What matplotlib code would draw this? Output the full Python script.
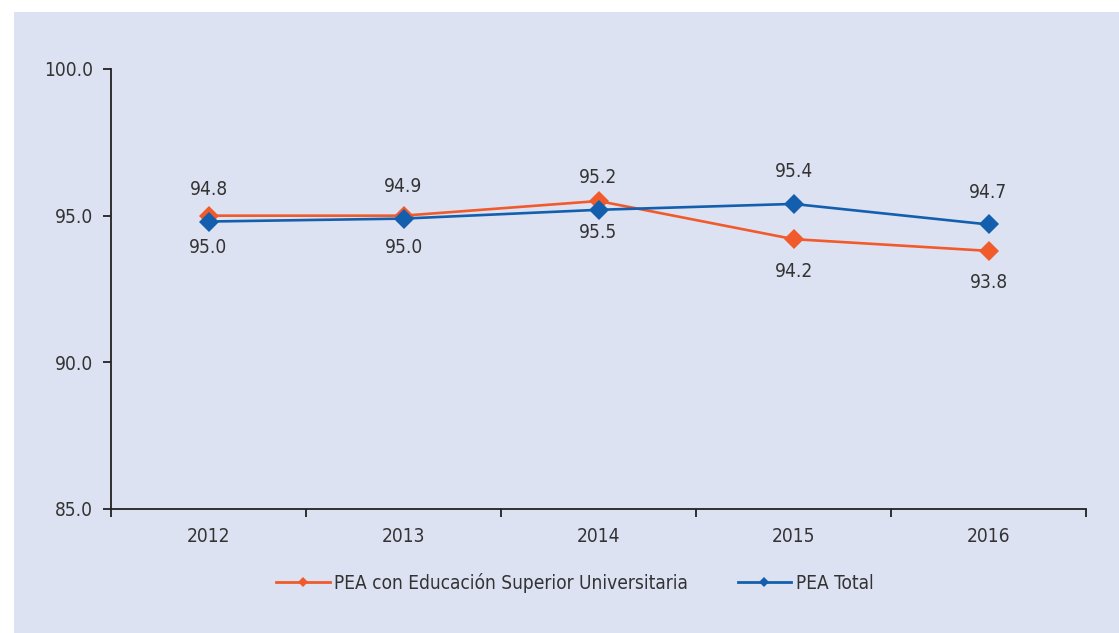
import matplotlib
matplotlib.use("Agg")
import matplotlib.pyplot as plt
from matplotlib.patches import Rectangle
from matplotlib.lines import Line2D

years = ["2012", "2013", "2014", "2015", "2016"]
pea_univ = [95.0, 95.0, 95.5, 94.2, 93.8]
pea_total = [94.8, 94.9, 95.2, 95.4, 94.7]
label_univ = ["95.0", "95.0", "95.5", "94.2", "93.8"]
label_total = ["94.8", "94.9", "95.2", "95.4", "94.7"]
yticks = [85.0, 90.0, 95.0, 100.0]

ORANGE = "#f15a2b"
BLUE = "#135fae"
TEXT = "#333333"
BG = "#dde2f2"
FS = 13.7

plt.rcParams['font.family'] = ['DejaVu Sans']
plt.rcParams['font.stretch'] = 'condensed'

fig = plt.figure(figsize=(11.19, 6.33), dpi=100)
fig.patch.set_facecolor("white")
fig.patches.append(Rectangle((14/1119, 0), 1 - 14/1119, (633-12)/633,
                             transform=fig.transFigure, facecolor=BG,
                             edgecolor="none", zorder=-10))

ax = fig.add_axes([111/1119, (633-509)/633, (1086-111)/1119, (509-69)/633])
ax.set_facecolor("none")
ax.set_zorder(1)
x = list(range(len(years)))

ax.plot(x, pea_univ, color=ORANGE, lw=1.9, marker="D", ms=10.5, mew=0, zorder=3)
ax.plot(x, pea_total, color=BLUE, lw=1.9, marker="D", ms=10.5, mew=0, zorder=4)

for xi, v, t in zip(x, pea_total, label_total):
    ax.annotate(t, (xi, v), xytext=(0, 23), textcoords="offset points",
                ha="center", va="center", fontsize=FS, color=TEXT)
for xi, v, t in zip(x, pea_univ, label_univ):
    ax.annotate(t, (xi, v), xytext=(0, -23), textcoords="offset points",
                ha="center", va="center", fontsize=FS, color=TEXT)

ax.set_xlim(-0.5, len(years) - 0.5)
ax.set_ylim(85, 100)
ax.set_yticks(yticks)
ax.set_yticklabels([f"{v:.1f}" for v in yticks], fontsize=FS, color=TEXT)
ax.set_xticks([i - 0.5 for i in range(len(years) + 1)])
ax.set_xticklabels([])
ax.set_xticks(x, minor=True)
ax.set_xticklabels(years, minor=True, fontsize=FS, color=TEXT)
ax.tick_params(axis="x", which="major", direction="out", length=6, width=1.3, color="#222222")
ax.tick_params(axis="x", which="minor", length=0, pad=13)
ax.tick_params(axis="y", direction="out", length=6, width=1.3, color="#222222", pad=7)

for s in ["top", "right"]:
    ax.spines[s].set_visible(False)
for s in ["left", "bottom"]:
    ax.spines[s].set_color("#222222")
    ax.spines[s].set_linewidth(1.3)

handles = [Line2D([], [], color=ORANGE, lw=2.0, marker="D", ms=5, mew=0),
           Line2D([], [], color=BLUE, lw=2.0, marker="D", ms=5, mew=0)]
fig.legend(handles, ["PEA con Educación Superior Universitaria", "PEA Total"],
           loc="center", bbox_to_anchor=(575/1119, (633-583)/633), ncol=2,
           frameon=False, fontsize=FS, handlelength=2.8, handletextpad=0.25,
           columnspacing=2.6, labelcolor=TEXT)

fig.savefig("out.png", dpi=100, facecolor=fig.get_facecolor())
